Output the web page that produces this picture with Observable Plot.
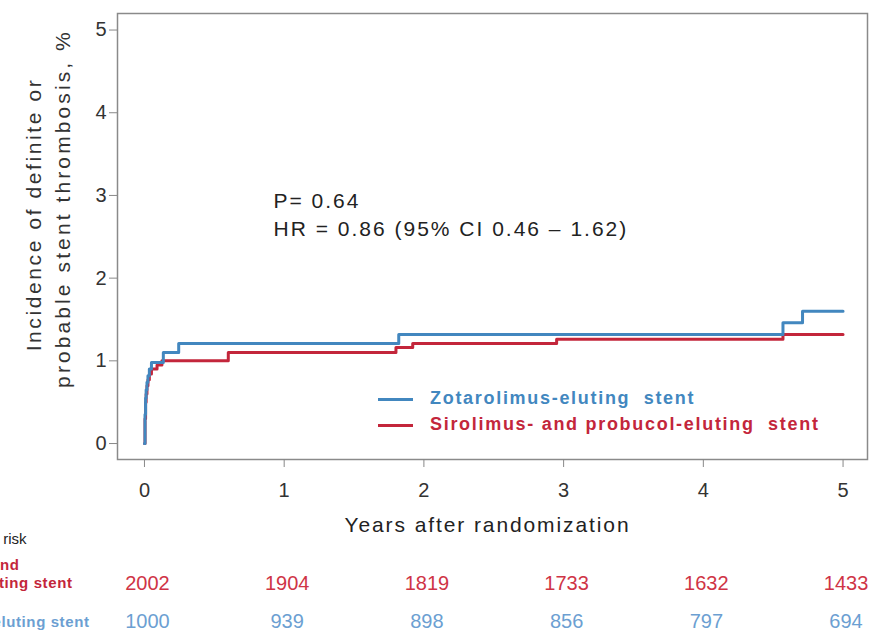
<!DOCTYPE html>
<html><head><meta charset="utf-8">
<script src="https://cdn.jsdelivr.net/npm/d3@7"></script>
<script src="https://cdn.jsdelivr.net/npm/@observablehq/plot@0.6"></script>
<style>
body{margin:0;background:#fff;font-family:"Liberation Sans",Arial,sans-serif;}
#wrap{position:relative;width:875px;height:634px;overflow:hidden;background:#fff;}
g[aria-description="ylab"] text{letter-spacing:2.6px}
g[aria-description="ylab2"] text{letter-spacing:3.1px}
g[aria-description="xlab"] text{letter-spacing:1.9px}
g[aria-description="annot"] text{letter-spacing:2px}
g[aria-description="risklab"] text{letter-spacing:0.6px}
.leg{position:absolute;left:378px;font-weight:bold;font-size:18px;letter-spacing:1.7px;white-space:pre;line-height:20px;}
.leg span.sw{display:inline-block;width:35px;height:0;border-top:3px solid;vertical-align:middle;margin-right:17px;}
</style></head><body><div id="wrap"></div>
<script>
// Data
const zotTime = [0, 0.004, 0.008, 0.012, 0.018, 0.025, 0.035, 0.05, 0.135, 0.245, 1.82, 4.57, 4.71, 5.0];
const zotValue = [0, 0.35, 0.55, 0.65, 0.74, 0.82, 0.9, 0.98, 1.10, 1.21, 1.32, 1.46, 1.60, 1.60];
const sirTime = [0, 0.004, 0.008, 0.012, 0.018, 0.025, 0.035, 0.05, 0.09, 0.125, 0.6, 1.80, 1.92, 2.95, 4.57, 5.0];
const sirValue = [0, 0.3, 0.5, 0.6, 0.7, 0.77, 0.84, 0.9, 0.95, 1.0, 1.10, 1.16, 1.21, 1.26, 1.32, 1.32];
const xTicks = [0, 1, 2, 3, 4, 5];
const yTicks = [0, 1, 2, 3, 4, 5];
const riskTimes = [0, 1, 2, 3, 4, 5];
const sirRisk = ["2002", "1904", "1819", "1733", "1632", "1433"];
const zotRisk = ["1000", "939", "898", "856", "797", "694"];
const seriesNames = ["Zotarolimus-eluting  stent", "Sirolimus- and probucol-eluting  stent"];
const BLUE = "#4287bf", RED = "#c3263b";
const BLUE_T = "#6c9fd2", RED_T = "#cf3446";

const zot = zotTime.map((t, i) => ({t, v: zotValue[i]}));
const sir = sirTime.map((t, i) => ({t, v: sirValue[i]}));
const fmt = d3.format("d");

const plot = Plot.plot({
  width: 875, height: 634,
  marginLeft: 117, marginRight: 8, marginTop: 13, marginBottom: 175,
  style: {fontFamily: "Liberation Sans, Arial, sans-serif", background: "#fff"},
  x: {domain: [-0.193, 5.175]},
  y: {domain: [-0.193, 5.2]},
  marks: [
    Plot.frame({stroke: "#8a8a8a", strokeWidth: 1.5}),
    Plot.axisY({ticks: yTicks, tickFormat: fmt, tickSize: 8, tickPadding: 3, fontSize: 20, stroke: "#888", fill: "#333", label: null}),
    Plot.axisX({ticks: xTicks, tickFormat: fmt, tickSize: 8, tickPadding: 15, fontSize: 20, stroke: "#888", fill: "#333", label: null}),
    Plot.line(sir, {x: "t", y: "v", curve: "step-after", stroke: RED, strokeWidth: 3}),
    Plot.line(zot, {x: "t", y: "v", curve: "step-after", stroke: BLUE, strokeWidth: 3}),
    Plot.text(["Incidence of definite or"], {frameAnchor: "left", rotate: -90, textAnchor: "middle", lineAnchor: "middle", dx: 34 - 117, dy: -22, fontSize: 21, fill: "#333", ariaDescription: "ylab"}),
    Plot.text(["probable stent thrombosis, %"], {frameAnchor: "left", rotate: -90, textAnchor: "middle", lineAnchor: "middle", dx: 63 - 117, dy: -28, fontSize: 21, fill: "#333", ariaDescription: "ylab2"}),
    Plot.text(["Years after randomization"], {frameAnchor: "bottom", lineAnchor: "middle", dx: -5, dy: 525 - 459, fontSize: 21, fill: "#222", ariaDescription: "xlab"}),
    Plot.text(["P= 0.64"], {frameAnchor: "top-left", lineAnchor: "middle", dx: 273 - 117, dy: 201 - 13, textAnchor: "start", fontSize: 21, fill: "#222", ariaDescription: "annot"}),
    Plot.text(["HR = 0.86 (95% CI 0.46 \u2013 1.62)"], {frameAnchor: "top-left", lineAnchor: "middle", dx: 273 - 117, dy: 229 - 13, textAnchor: "start", fontSize: 21, fill: "#222", ariaDescription: "annot"}),
    Plot.text(riskTimes, {x: d => d, text: (d, i) => sirRisk[i], frameAnchor: "bottom", lineAnchor: "middle", dx: 3, dy: 583 - 459, fontSize: 20, fill: RED_T}),
    Plot.text(riskTimes, {x: d => d, text: (d, i) => zotRisk[i], frameAnchor: "bottom", lineAnchor: "middle", dx: 3, dy: 621 - 459, fontSize: 20, fill: BLUE_T}),
    Plot.text(["Number at risk"], {frameAnchor: "bottom-left", textAnchor: "end", lineAnchor: "middle", dx: 26 - 117, dy: 539 - 459, fontSize: 15, fill: "#222"}),
    Plot.text(["Sirolimus- and"], {frameAnchor: "bottom-left", textAnchor: "end", lineAnchor: "middle", dx: 19 - 117, dy: 565 - 459, fontSize: 15, fontWeight: "bold", fill: RED, ariaDescription: "risklab"}),
    Plot.text(["probucol-eluting stent"], {frameAnchor: "bottom-left", textAnchor: "end", lineAnchor: "middle", dx: 72 - 117, dy: 583 - 459, fontSize: 15, fontWeight: "bold", fill: RED, ariaDescription: "risklab"}),
    Plot.text(["Zotarolimus-eluting stent"], {frameAnchor: "bottom-left", textAnchor: "end", lineAnchor: "middle", dx: 89 - 117, dy: 622 - 459, fontSize: 15, fontWeight: "bold", fill: BLUE_T, ariaDescription: "risklab"})
  ]
});
const wrap = document.getElementById("wrap");
wrap.appendChild(plot);
// legend
[[seriesNames[0], BLUE, 388], [seriesNames[1], RED, 414]].forEach(([name, col, top]) => {
  const d = document.createElement("div");
  d.className = "leg";
  d.style.top = top + "px";
  d.style.color = col;
  const sw = document.createElement("span");
  sw.className = "sw";
  sw.style.borderTopColor = col;
  d.appendChild(sw);
  d.appendChild(document.createTextNode(name));
  wrap.appendChild(d);
});
</script></body></html>
